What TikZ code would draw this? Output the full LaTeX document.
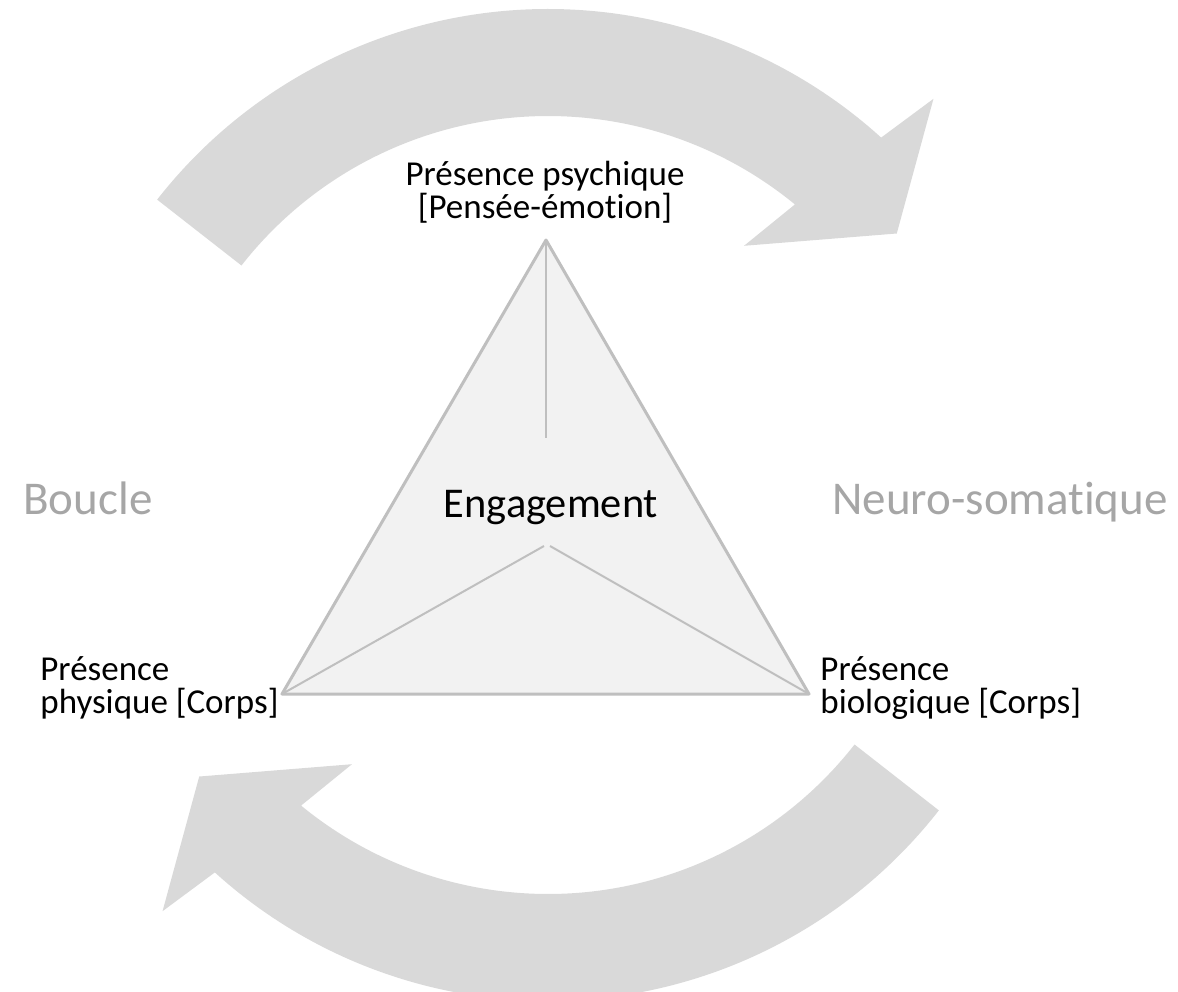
\documentclass[tikz,border=0pt]{standalone}
\usepackage{fontspec}
\setmainfont{Carlito}[Ligatures=NoCommon]
\usetikzlibrary{calc}
\definecolor{arrowgray}{HTML}{D9D9D9}
\definecolor{trifill}{HTML}{F2F2F2}
\definecolor{linegray}{HTML}{BFBFBF}
\definecolor{sidegray}{HTML}{A6A6A6}

\begin{document}
\begin{tikzpicture}[x=0.5pt,y=-0.5pt,
  loop/.style={fill=arrowgray},
  tri/.style={draw=linegray,line width=1.5pt,fill=trifill,line join=round},
  spoke/.style={draw=linegray,line width=1pt},
  lbl/.style={font=\fontsize{17.5}{16.5}\selectfont,inner sep=0pt},
  side/.style={font=\fontsize{23.5}{27}\selectfont,text=sidegray,inner sep=0pt}]

\useasboundingbox (0,0) rectangle (1178,991);

\coordinate (c) at (548,505);

% the two curved arrows of the loop
\foreach \r in {0,180}{
  \begin{scope}[rotate around={\r:(c)}]
    \fill[loop] ($(c)+(-142:496)$) arc[start angle=-142, end angle=-47.8, radius=496]
      -- ($(c)+(-46.5:560)$) -- ($(c)+(-37.9:442)$) -- ($(c)+(-52.9:325)$)
      -- ($(c)+(-50.6:389)$) arc[start angle=-50.6, end angle=-142, radius=389] -- cycle;
  \end{scope}
}

\coordinate (top) at (546,240);
\coordinate (bl) at (282,694);
\coordinate (br) at (809,694);
\coordinate (mid) at (546,438);
\coordinate (vl) at (544,546);
\coordinate (vr) at (550,546);

\draw[tri] (top) -- (bl) -- (br) -- cycle;
\draw[spoke] (top) -- (mid);
\draw[spoke] (bl) -- (vl);
\draw[spoke] (vr) -- (br);

\node[anchor=base,inner sep=0pt,font=\fontsize{21.2}{25}\selectfont] (eng) at (551,517) {Engagement};

\node[lbl,align=center] (psy) at (545,192) {Présence psychique\\{[}Pensée-émotion]};
\node[lbl,align=left,anchor=west] (phys) at (40,688) {Présence\\physique [Corps]};
\node[lbl,align=left,anchor=west] (bio) at (820,688) {Présence\\biologique [Corps]};

\node[side,anchor=base west] (boucle) at (23,514) {Boucle};
\node[side,anchor=base west] (neuro) at (832,514) {Neuro-somatique};

\end{tikzpicture}
\end{document}
